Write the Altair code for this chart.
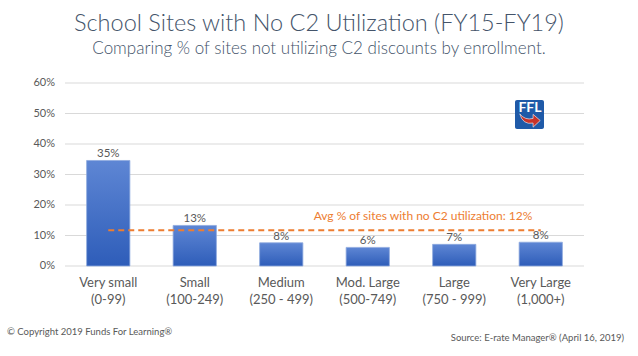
import altair as alt
import pandas as pd

categories = ["Very small|(0-99)", "Small|(100-249)", "Medium|(250 - 499)",
              "Mod. Large|(500-749)", "Large|(750 - 999)", "Very Large|(1,000+)"]
values = [34.6, 13.3, 7.6, 6.1, 7.1, 7.8]
value_labels = ["35%", "13%", "8%", "6%", "7%", "8%"]
avg_value = 11.7
avg_label = "Avg % of sites with no C2 utilization: 12%"
y_ticks = [0, 10, 20, 30, 40, 50, 60]
y_tick_labels = ["0%", "10%", "20%", "30%", "40%", "50%", "60%"]
title_text = "School Sites with No C2 Utilization (FY15-FY19)"
subtitle_text = "Comparing % of sites not utilizing C2 discounts by enrollment."
copyright_text = "© Copyright 2019 Funds For Learning®"
source_text = "Source: E-rate Manager® (April 16, 2019)"

FONT = "Lato"
GREY = "#595959"
SLATE = "#44546A"
ORANGE = "#ED7D31"

df = pd.DataFrame({"cat": categories, "val": values, "lab": value_labels})
avg_df = pd.DataFrame({"start": [categories[0]], "end": [categories[-1]],
                       "avg": [avg_value], "lab": [avg_label]})
tick_df = pd.DataFrame({"v": y_ticks, "lab": y_tick_labels})

xscale = alt.Scale(domain=categories, paddingInner=0.5, paddingOuter=0.25)
yscale = alt.Scale(domain=[0, 60], nice=False)

xaxis = alt.Axis(title=None, labelExpr="split(datum.value, '|')", labelAngle=0,
                 labelFont=FONT, labelFontSize=13, labelColor=GREY,
                 labelLineHeight=17, labelPadding=10, domain=False, ticks=False,
                 grid=False)

gradient = alt.Gradient(gradient="linear",
                        stops=[alt.GradientStop(color="#5E86D4", offset=0),
                               alt.GradientStop(color="#2E5DB9", offset=1)],
                        x1=0, x2=0, y1=0, y2=1)

# y grid and tick labels drawn from the tick arrays through the y scale
grid = alt.Chart(tick_df).mark_rule(color="#D9D9D9", strokeWidth=1).encode(
    y=alt.Y("v:Q", scale=yscale, axis=None),
    x=alt.value(0), x2=alt.value(519),
)
grid_labels = alt.Chart(tick_df).mark_text(font=FONT, fontSize=11, color=GREY,
                                           align="right", baseline="middle").encode(
    y=alt.Y("v:Q", scale=yscale, axis=None),
    x=alt.value(-10),
    text="lab:N",
)

base = alt.Chart(df)
bars = base.mark_bar(color=gradient, stroke="#8EA9DE", strokeWidth=0.8).encode(
    x=alt.X("cat:N", scale=xscale, axis=xaxis, sort=categories),
    y=alt.Y("val:Q", scale=yscale, axis=None),
)
bar_text = base.mark_text(font=FONT, fontSize=11.5, color=GREY, baseline="alphabetic", dy=-3).encode(
    x=alt.X("cat:N", scale=xscale, axis=xaxis, sort=categories),
    y=alt.Y("val:Q", scale=yscale, axis=None),
    text="lab:N",
)

avg_base = alt.Chart(avg_df)
avg_rule = avg_base.mark_rule(color=ORANGE, strokeWidth=2, strokeDash=[6, 4]).encode(
    x=alt.X("start:N", scale=xscale, axis=xaxis, sort=categories),
    x2="end:N",
    y=alt.Y("avg:Q", scale=yscale, axis=None),
)
avg_text = avg_base.mark_text(font=FONT, fontSize=12, color=ORANGE, baseline="alphabetic").encode(
    x=alt.value(358), y=alt.value(137), text="lab:N"
)


def label(txt, x, y, size, color, align="center", weight="normal"):
    return alt.Chart(pd.DataFrame({"t": [txt]})).mark_text(
        font=FONT, fontSize=size, color=color, align=align, baseline="alphabetic",
        fontWeight=weight,
    ).encode(x=alt.value(x), y=alt.value(y), text="t:N")


title = label(title_text, 254, -52, 23.5, SLATE, weight=300)
subtitle = label(subtitle_text, 254, -29, 17, SLATE, weight=300)
copyright_t = label(copyright_text, -58, 252, 9.5, GREY, align="left")
source_t = label(source_text, 559, 258, 9.5, GREY, align="right")

logo_df = pd.DataFrame({"t": ["FFL"]})
logo_box = alt.Chart(logo_df).mark_rect(color="#1F5AA8", cornerRadius=2).encode(
    x=alt.value(450), x2=alt.value(479), y=alt.value(17), y2=alt.value(46)
)
logo_txt = alt.Chart(logo_df).mark_text(font=FONT, fontSize=14, fontWeight="bold",
                                        color="white", baseline="middle").encode(
    x=alt.value(465), y=alt.value(25), text="t:N"
)
arrow_path = ("M -1 -0.6 Q -0.7 0.5 0.3 0.3 L 0.3 0.7 L 1 0.05 L 0.3 -0.55 "
              "L 0.3 -0.15 Q -0.5 0.05 -1 -0.6 Z")
logo_arrow = alt.Chart(logo_df).mark_point(shape=arrow_path, filled=True, color="#C7332A",
                                           opacity=1, size=420, stroke="white",
                                           strokeWidth=0.6).encode(
    x=alt.value(465), y=alt.value(37)
)

chart = alt.layer(
    grid, grid_labels, bars, avg_rule, bar_text, avg_text, title, subtitle,
    copyright_t, source_t, logo_box, logo_txt, logo_arrow
).properties(
    width=519, height=183,
    autosize=alt.AutoSizeParams(type="none"),
    padding={"left": 65, "top": 83, "right": 54, "bottom": 90},
    background="white",
).configure_view(stroke=None)

chart.save("out.html", embed_options={"renderer": "svg", "actions": False})
